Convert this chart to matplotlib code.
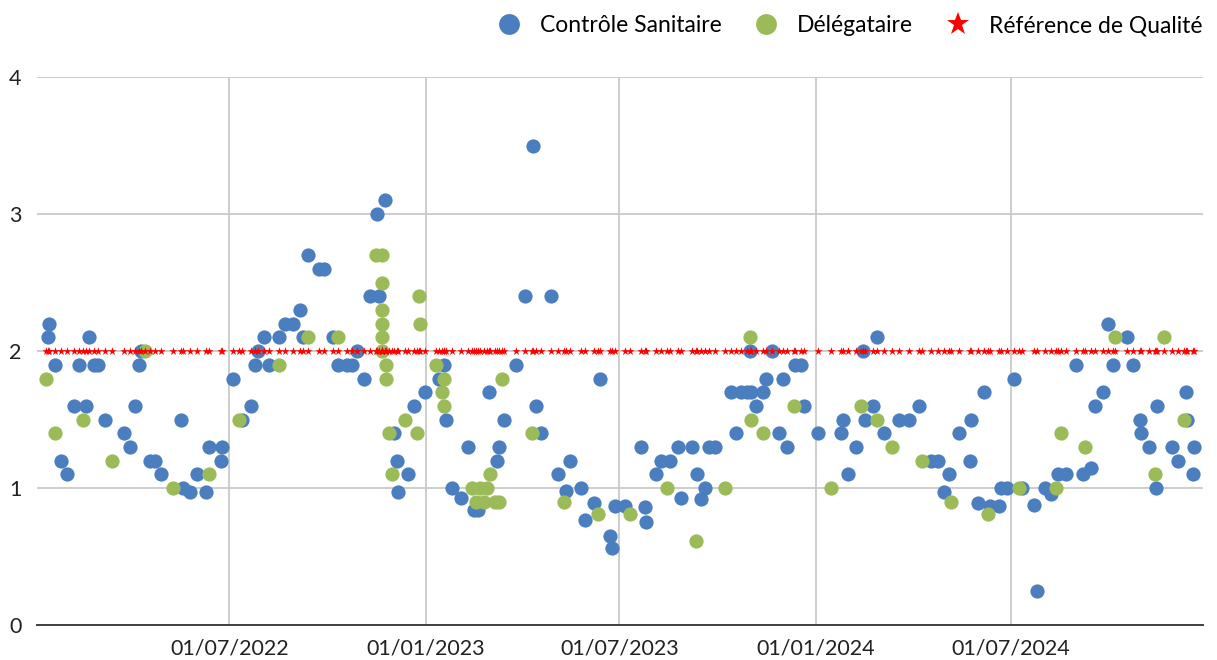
"""
Scatter of measured values (Contrôle Sanitaire / Délégataire) against the
quality reference of 2, Jan 2022 - Dec 2024.
"""
import pandas as pd
import matplotlib
matplotlib.use("Agg")
import matplotlib.pyplot as plt
import matplotlib.dates as mdates
from matplotlib.lines import Line2D

plt.rcParams['font.family'] = ['Lato', 'DejaVu Sans']

# --- data --------------------------------------------------------------------
sanitaire_dates = [
    "2022-01-12", "2022-01-13", "2022-01-19", "2022-01-24", "2022-01-30", "2022-02-06",
    "2022-02-10", "2022-02-17", "2022-02-20", "2022-02-24", "2022-02-28", "2022-03-07",
    "2022-03-24", "2022-03-30", "2022-04-04", "2022-04-07", "2022-04-09", "2022-04-18",
    "2022-04-22", "2022-04-28", "2022-05-19", "2022-05-25", "2022-05-17", "2022-06-01",
    "2022-06-09", "2022-06-12", "2022-06-23", "2022-06-24", "2022-07-04", "2022-07-13",
    "2022-07-21", "2022-07-25", "2022-07-28", "2022-08-02", "2022-08-07", "2022-08-16",
    "2022-08-22", "2022-08-30", "2022-09-05", "2022-09-08", "2022-09-13", "2022-09-23",
    "2022-09-28", "2022-10-06", "2022-10-11", "2022-10-19", "2022-10-24", "2022-10-28",
    "2022-11-04", "2022-11-10", "2022-11-16", "2022-11-18", "2022-11-24", "2022-12-02",
    "2022-12-05", "2022-12-06", "2022-12-15", "2022-12-21", "2022-12-31", "2023-01-13",
    "2023-01-18", "2023-01-20", "2023-01-25", "2023-02-03", "2023-02-09", "2023-02-15",
    "2023-02-19", "2023-03-01", "2023-03-08", "2023-03-10", "2023-03-15", "2023-03-26",
    "2023-04-04", "2023-04-11", "2023-04-14", "2023-04-19", "2023-04-28", "2023-05-05",
    "2023-05-12", "2023-05-16", "2023-05-26", "2023-05-30", "2023-06-07", "2023-06-13",
    "2023-06-22", "2023-06-24", "2023-06-27", "2023-07-06", "2023-07-21", "2023-07-25",
    "2023-07-26", "2023-08-04", "2023-08-09", "2023-08-17", "2023-08-25", "2023-08-28",
    "2023-09-07", "2023-09-12", "2023-09-15", "2023-09-19", "2023-09-23", "2023-09-28",
    "2023-10-13", "2023-10-18", "2023-10-23", "2023-10-28", "2023-10-31", "2023-11-01",
    "2023-11-06", "2023-11-12", "2023-11-15", "2023-11-21", "2023-11-27", "2023-12-01",
    "2023-12-05", "2023-12-12", "2023-12-18", "2023-12-21", "2024-01-03", "2024-01-24",
    "2024-01-26", "2024-01-31", "2024-02-07", "2024-02-14", "2024-02-16", "2024-02-23",
    "2024-02-27", "2024-03-05", "2024-03-19", "2024-03-28", "2024-04-06", "2024-04-18",
    "2024-04-24", "2024-04-30", "2024-05-04", "2024-05-14", "2024-05-24", "2024-05-25",
    "2024-06-01", "2024-06-06", "2024-06-12", "2024-06-20", "2024-06-22", "2024-06-28",
    "2024-07-04", "2024-07-12", "2024-07-23", "2024-07-26", "2024-08-02", "2024-08-08",
    "2024-08-14", "2024-08-22", "2024-08-31", "2024-09-07", "2024-09-14", "2024-09-18",
    "2024-09-26", "2024-09-30", "2024-10-05", "2024-10-18", "2024-10-24", "2024-10-30",
    "2024-10-31", "2024-11-08", "2024-11-15", "2024-11-14", "2024-11-29", "2024-12-05",
    "2024-12-12", "2024-12-13", "2024-12-20", "2024-12-19",
]
sanitaire_values = [
    2.1, 2.2, 1.9, 1.2, 1.1, 1.6,
    1.9, 1.6, 2.1, 1.9, 1.9, 1.5,
    1.4, 1.3, 1.6, 1.9, 2.0, 1.2,
    1.2, 1.1, 1.0, 0.97, 1.5, 1.1,
    0.97, 1.3, 1.2, 1.3, 1.8, 1.5,
    1.6, 1.9, 2.0, 2.1, 1.9, 2.1,
    2.2, 2.2, 2.3, 2.1, 2.7, 2.6,
    2.6, 2.1, 1.9, 1.9, 1.9, 2.0,
    1.8, 2.4, 3.0, 2.4, 3.1, 1.4,
    1.2, 0.97, 1.1, 1.6, 1.7, 1.8,
    1.9, 1.5, 1.0, 0.93, 1.3, 0.84,
    0.84, 1.7, 1.2, 1.3, 1.5, 1.9,
    2.4, 3.5, 1.6, 1.4, 2.4, 1.1,
    0.98, 1.2, 1.0, 0.77, 0.89, 1.8,
    0.65, 0.56, 0.87, 0.87, 1.3, 0.86,
    0.75, 1.1, 1.2, 1.2, 1.3, 0.93,
    1.3, 1.1, 0.92, 1.0, 1.3, 1.3,
    1.7, 1.4, 1.7, 1.7, 2.0, 1.7,
    1.6, 1.7, 1.8, 2.0, 1.4, 1.8,
    1.3, 1.9, 1.9, 1.6, 1.4, 1.4,
    1.5, 1.1, 1.3, 2.0, 1.5, 1.6,
    2.1, 1.4, 1.5, 1.5, 1.6, 1.2,
    1.2, 0.97, 1.1, 1.4, 1.2, 1.5,
    0.89, 1.7, 0.87, 0.87, 1.0, 1.0,
    1.8, 1.0, 0.88, 0.25, 1.0, 0.96,
    1.1, 1.1, 1.9, 1.1, 1.15, 1.6,
    1.7, 2.2, 1.9, 2.1, 1.9, 1.5,
    1.4, 1.3, 1.6, 1.0, 1.3, 1.2,
    1.7, 1.5, 1.3, 1.1,
]

delegataire_dates = [
    "2022-01-10", "2022-01-19", "2022-02-14", "2022-03-13", "2022-04-13", "2022-05-09",
    "2022-06-12", "2022-07-10", "2022-08-16", "2022-09-13", "2022-10-11", "2022-11-15",
    "2022-11-21", "2022-11-21", "2022-11-21", "2022-11-21", "2022-11-21", "2022-11-21",
    "2022-11-25", "2022-11-25", "2022-11-27", "2022-11-30", "2022-12-12", "2022-12-24",
    "2022-12-25", "2022-12-26", "2023-01-10", "2023-01-18", "2023-01-16", "2023-01-18",
    "2023-02-13", "2023-02-21", "2023-02-27", "2023-02-17", "2023-02-24", "2023-03-07",
    "2023-03-10", "2023-03-02", "2023-03-13", "2023-04-10", "2023-05-10", "2023-06-11",
    "2023-07-11", "2023-08-15", "2023-09-11", "2023-10-08", "2023-10-31", "2023-11-01",
    "2023-11-12", "2023-12-11", "2024-01-15", "2024-02-12", "2024-02-27", "2024-03-12",
    "2024-04-09", "2024-05-06", "2024-06-10", "2024-07-09", "2024-08-13", "2024-08-17",
    "2024-09-09", "2024-10-07", "2024-11-13", "2024-11-22", "2024-12-10",
]
delegataire_values = [
    1.8, 1.4, 1.5, 1.2, 2.0, 1.0,
    1.1, 1.5, 1.9, 2.1, 2.1, 2.7,
    2.7, 2.5, 2.3, 2.2, 2.1, 2.0,
    1.9, 1.8, 1.4, 1.1, 1.5, 1.4,
    2.4, 2.2, 1.9, 1.8, 1.7, 1.6,
    1.0, 1.0, 1.0, 0.9, 0.9, 0.9,
    0.9, 1.1, 1.8, 1.4, 0.9, 0.81,
    0.81, 1.0, 0.61, 1.0, 2.1, 1.5,
    1.4, 1.6, 1.0, 1.6, 1.5, 1.3,
    1.2, 0.9, 0.81, 1.0, 1.0, 1.4,
    1.3, 2.1, 1.1, 2.1, 1.5,
]

reference_value = 2.0
x_ticks = ["2022-07-01", "2023-01-01", "2023-07-01", "2024-01-01", "2024-07-01"]

BLUE = "#4a7ebf"
GREEN = "#9bbb59"
RED = "#ff0000"
GRID = "#c9c9c9"


def main():
    san_x = pd.to_datetime(sanitaire_dates)
    del_x = pd.to_datetime(delegataire_dates)
    ref_x = san_x.union(del_x)

    fig = plt.figure(figsize=(12.17, 6.6), dpi=100)
    ax = fig.add_axes([0.0304, 0.053, 0.958, 0.830])

    ax.scatter(san_x, sanitaire_values, s=105, color=BLUE, linewidths=0, zorder=3)
    ax.scatter(del_x, delegataire_values, s=105, color=GREEN, linewidths=0, zorder=4)
    ax.scatter(ref_x, [reference_value] * len(ref_x), s=38, marker="*",
               color=RED, linewidths=0, zorder=5)

    ax.set_ylim(0, 4)
    ax.set_yticks([0, 1, 2, 3, 4])
    ax.set_xlim(pd.Timestamp("2022-01-02"), pd.Timestamp("2024-12-28"))
    ax.set_xticks(pd.to_datetime(x_ticks))
    ax.xaxis.set_major_formatter(mdates.DateFormatter("%d/%m/%Y"))

    ax.grid(True, color=GRID, linewidth=1.3)
    ax.set_axisbelow(True)
    for side in ("top", "right", "left"):
        ax.spines[side].set_visible(False)
    ax.spines["bottom"].set_color("#404040")
    ax.spines["bottom"].set_linewidth(1.4)
    ax.tick_params(length=0, labelsize=15.5, colors="#222222")
    ax.tick_params(axis="y", pad=11)
    ax.tick_params(axis="x", pad=10)

    handles = [
        Line2D([], [], ls="none", marker="o", ms=15, color=BLUE, mew=0),
        Line2D([], [], ls="none", marker="o", ms=15, color=GREEN, mew=0),
        Line2D([], [], ls="none", marker="*", ms=17, color=RED, mew=0),
    ]
    labels = ["Contrôle Sanitaire", "Délégataire", "Référence de Qualité"]
    fig.legend(handles, labels, loc="upper right", bbox_to_anchor=(1.005, 1.008),
               ncol=3, frameon=False, fontsize=16.5, handletextpad=0.7,
               columnspacing=1.3, handlelength=1.3)

    fig.savefig("out.png", dpi=100)
    plt.close(fig)


if __name__ == "__main__":
    main()
